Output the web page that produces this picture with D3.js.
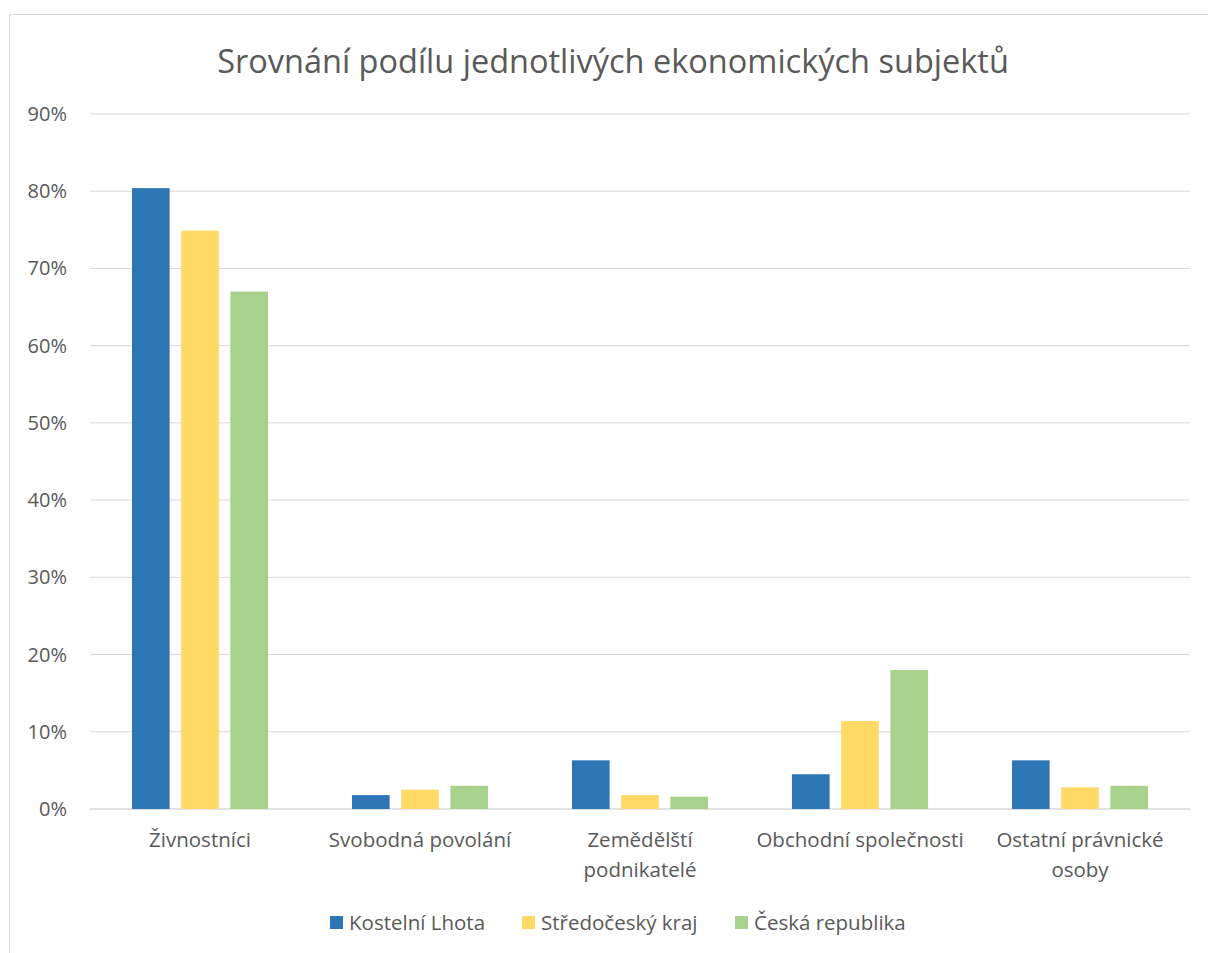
<!DOCTYPE html>
<html lang="cs">
<head>
<meta charset="UTF-8"/>
<title>Srovnání podílu jednotlivých ekonomických subjektů</title>
<script src="https://d3js.org/d3.v7.min.js"></script>
<style>
	body { margin: 0; background: #fff; }
	text { font-family: "Open Sans", "Noto Sans", sans-serif; fill: #595959; }
</style>
</head>
<body>
<script>
	var categories = ["Živnostníci", "Svobodná povolání", "Zemědělští podnikatelé", "Obchodní společnosti", "Ostatní právnické osoby"];
	var series = ["Kostelní Lhota", "Středočeský kraj", "Česká republika"];
	var kostelniLhota = [80.4, 1.8, 6.3, 4.5, 6.3];
	var stredoceskyKraj = [74.9, 2.5, 1.8, 11.4, 2.8];
	var ceskaRepublika = [67.0, 3.0, 1.6, 18.0, 3.0];
	var yTicks = [0, 10, 20, 30, 40, 50, 60, 70, 80, 90];
	var colors = ["#2E75B6", "#FFD966", "#A9D18E"];

	var values = [kostelniLhota, stredoceskyKraj, ceskaRepublika];
	var w = 1208, h = 953;
	var plotLeft = 90, plotRight = 1190, plotTop = 114, plotBottom = 809;

	var svg = d3.select("body").append("svg").attr("width", w).attr("height", h);

	// chart frame
	svg.append("rect").attr("x", 9.5).attr("y", 14.5).attr("width", 1210).attr("height", 960)
		.attr("fill", "none").attr("stroke", "#D9D9D9");

	svg.append("text").attr("x", 613).attr("y", 73).attr("text-anchor", "middle")
		.attr("font-size", "32.5px").text("Srovnání podílu jednotlivých ekonomických subjektů");

	var x0 = d3.scaleBand().domain(categories).range([plotLeft, plotRight]);
	var x1 = d3.scaleBand().domain(series).range([0, 136]).paddingInner(0.235);
	var y = d3.scaleLinear().domain([0, 90]).range([plotBottom, plotTop]);

	// grid
	svg.append("g").selectAll("line").data(yTicks).enter().append("line")
		.attr("x1", plotLeft).attr("x2", plotRight)
		.attr("y1", function(d){ return y(d); }).attr("y2", function(d){ return y(d); })
		.attr("stroke", "#D9D9D9").attr("stroke-width", function(d){ return d === 0 ? 1.5 : 1; });

	svg.append("g").selectAll("text").data(yTicks).enter().append("text")
		.attr("x", 67).attr("y", function(d){ return y(d); }).attr("dy", "0.35em")
		.attr("text-anchor", "end").attr("font-size", "20px")
		.text(function(d){ return d + "%"; });

	// bars
	series.forEach(function(s, si){
		svg.append("g").selectAll("rect").data(values[si]).enter().append("rect")
			.attr("x", function(d, i){ return x0(categories[i]) + x0.bandwidth() / 2 - 68 + x1(s); })
			.attr("width", x1.bandwidth())
			.attr("y", function(d){ return y(d); })
			.attr("height", function(d){ return y(0) - y(d); })
			.attr("fill", colors[si]);
	});

	// category labels
	var wrapped = { "Zemědělští podnikatelé": ["Zemědělští", "podnikatelé"], "Ostatní právnické osoby": ["Ostatní právnické", "osoby"] };
	categories.forEach(function(c){
		var lines = wrapped[c] || [c];
		var t = svg.append("text").attr("text-anchor", "middle").attr("font-size", "20.5px");
		lines.forEach(function(l, li){
			t.append("tspan").attr("x", x0(c) + x0.bandwidth() / 2).attr("y", 847 + li * 30).text(l);
		});
	});

	// legend
	var legendX = [330, 522, 735];
	series.forEach(function(s, si){
		svg.append("rect").attr("x", legendX[si]).attr("y", 916).attr("width", 13).attr("height", 13).attr("fill", colors[si]);
		svg.append("text").attr("x", legendX[si] + 19).attr("y", 922.5).attr("dy", "0.35em")
			.attr("font-size", "20.5px").text(s);
	});
</script>
</body>
</html>
